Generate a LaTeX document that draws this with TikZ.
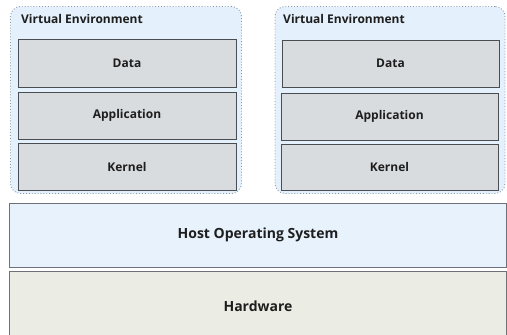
\documentclass[tikz,border=0pt]{standalone}
\usepackage{fontspec}
\setmainfont{Open Sans}
\begin{document}
\begin{tikzpicture}[x=1pt,y=-1pt,
  env/.style={draw=envline, fill=envfill, dotted, line width=0.9pt, rounded corners=10pt, inner sep=0pt},
  layer/.style={draw=layline, fill=layfill, line width=0.9pt, inner sep=0pt, font=\fontsize{12}{14}\selectfont\bfseries, text=txt},
  base/.style={draw=baseline, line width=0.9pt, inner sep=0pt, font=\fontsize{14}{16}\selectfont\bfseries, text=txt},
  envlabel/.style={anchor=north west, inner sep=0pt, font=\fontsize{12}{14}\selectfont\bfseries, text=txt}]
\definecolor{envfill}{HTML}{E4F0FB}
\definecolor{envline}{HTML}{8C98A8}
\definecolor{layfill}{HTML}{D9DCDF}
\definecolor{layline}{HTML}{4A4E52}
\definecolor{baseline}{HTML}{6E7278}
\definecolor{osfill}{HTML}{E8F2FD}
\definecolor{hwfill}{HTML}{EBEDE4}
\definecolor{txt}{HTML}{1E1E1E}
\useasboundingbox (0,0) rectangle (507,335);
% left environment
\node[env, minimum width=231pt, minimum height=187pt] (ve1) at (126,100) {};
\node[envlabel] (l1) at (21,14) {Virtual Environment};
\node[layer, minimum width=218pt, minimum height=48pt] (d1) at (127,63) {Data};
\node[layer, minimum width=218pt, minimum height=47pt] (a1) at (127,115.5) {Application};
\node[layer, minimum width=218pt, minimum height=47pt] (k1) at (127,166.5) {Kernel};
% right environment
\node[env, minimum width=230pt, minimum height=187pt] (ve2) at (390,100) {};
\node[envlabel] (l2) at (283,14) {Virtual Environment};
\node[layer, minimum width=217pt, minimum height=47pt] (d2) at (390.5,63.5) {Data};
\node[layer, minimum width=217pt, minimum height=47pt] (a2) at (389.5,116.5) {Application};
\node[layer, minimum width=217pt, minimum height=46pt] (k2) at (389.5,167) {Kernel};
% base layers
\node[base, fill=osfill, minimum width=497pt, minimum height=64pt] (os) at (258,235) {Host Operating System};
\node[base, fill=hwfill, minimum width=497pt, minimum height=70pt] (hw) at (258,306) {Hardware};
\end{tikzpicture}
\end{document}
